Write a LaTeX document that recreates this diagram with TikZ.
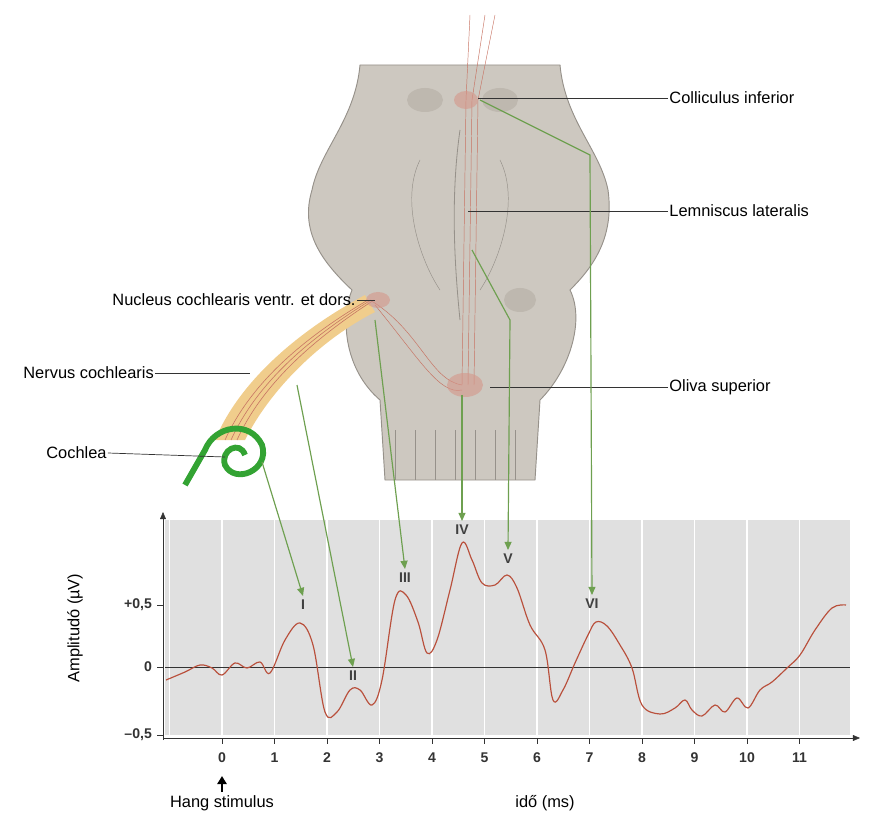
\documentclass[tikz,border=0pt]{standalone}
\usepackage{fontspec}
\setmainfont{Liberation Sans}
\usetikzlibrary{positioning,arrows.meta}
\definecolor{brain}{RGB}{205,200,192}
\definecolor{brainline}{RGB}{150,145,138}
\definecolor{bump}{RGB}{190,184,175}
\definecolor{arrgreen}{RGB}{110,160,80}
\definecolor{wave}{RGB}{185,80,60}
\definecolor{nerve}{RGB}{240,205,140}
\tikzset{
  lbl/.style={font=\fontsize{14}{16}\selectfont, inner sep=1pt},
  pointer/.style={draw=black!80, line width=0.6pt},
  link/.style={draw=arrgreen, line width=1pt, -{Triangle[length=7pt,width=6pt]}},
  peak/.style={font=\bfseries\fontsize{12}{14}\selectfont, text=black!75},
  tick/.style={font=\bfseries\fontsize{12}{14}\selectfont, text=black!80}
}
\begin{document}
\begin{tikzpicture}[x=0.03cm, y=-0.03cm]
  \useasboundingbox (0,0) rectangle (886,819);
  %.
  % brainstem
  \filldraw[fill=brain, draw=brainline, line width=0.8pt]
    (360,65) -- (560,65) .. controls (565,120) and (600,150) .. (608,190)
    .. controls (615,240) and (590,270) .. (570,290)
    .. controls (585,320) and (570,370) .. (540,400) -- (535,480) -- (385,480) -- (380,400)
    .. controls (345,370) and (340,320) .. (352,290)
    .. controls (320,260) and (300,230) .. (312,190)
    .. controls (320,150) and (355,120) .. cycle;
  \draw[brainline, line width=0.7pt] (460,130) .. controls (450,200) and (455,270) .. (460,320);
  \draw[brainline] (420,160) .. controls (400,200) and (420,260) .. (440,290);
  \draw[brainline] (500,160) .. controls (520,200) and (500,260) .. (480,290);
  \foreach \x in {395,415,435,455,475,495,515} \draw[brainline] (\x,430) -- (\x,480);
  \fill[bump] (425,100) ellipse (18 and 12);
  \fill[bump] (500,100) ellipse (18 and 12);
  \fill[bump] (520,300) ellipse (16 and 12);
  % nerve and cochlea
  \fill[nerve] (245,440) -- (215,440) .. controls (240,380) and (300,330) .. (365,295)
    -- (375,312) .. controls (320,340) and (270,390) .. cycle;
  \foreach \d in {0,6,12} \draw[wave!80, line width=0.5pt] (225+\d,440) .. controls (250+\d,385) and (300+\d,340) .. (368+\d/2,300);
  \draw[wave!80] (370,300) .. controls (420,330) and (430,380) .. (462,385);
  \draw[wave!80] (375,305) .. controls (420,360) and (440,395) .. (462,390);
  \draw[wave!80] (462,385) -- (466,100) -- (470,15);
  \draw[wave!80] (468,385) -- (472,100) -- (485,15);
  \draw[wave!80] (474,385) -- (478,100) -- (495,15);
  \fill[wave!60, opacity=0.6] (378,300) ellipse (12 and 8);
  \fill[wave!60, opacity=0.6] (465,385) ellipse (18 and 12);
  \fill[wave!60, opacity=0.6] (466,100) ellipse (12 and 9);
  \draw[green!55!black!80, line width=5pt] (185,485) -- (205,450)
    .. controls (215,425) and (250,420) .. (262,445) .. controls (270,470) and (235,485) .. (225,465)
    .. controls (220,450) and (240,440) .. (245,455);
  % labels
  \node[lbl, anchor=west] (colliculus) at (668,98) {Colliculus inferior};
  \node[lbl, anchor=west] (lemniscus) at (668,211) {Lemniscus lateralis};
  \node[lbl, anchor=west] (oliva) at (668,387) {Oliva superior};
  \node[lbl, anchor=east] (nucleus) at (357,300) {Nucleus cochlearis ventr. et dors.};
  \node[lbl, anchor=west] (nervus) at (22,373) {Nervus cochlearis};
  \node[lbl, anchor=west] (cochlea) at (45,453) {Cochlea};
  \coordinate (pc) at (478,98);
  \coordinate (pl) at (468,211);
  \coordinate (po) at (490,387);
  \coordinate (pn) at (375,300);
  \coordinate (pv) at (250,373);
  \coordinate (pk) at (225,457);
  \draw[pointer] (colliculus.west) -- (pc);
  \draw[pointer] (lemniscus.west) -- (pl);
  \draw[pointer] (oliva.west) -- (po);
  \draw[pointer] (nucleus.east) -- (pn);
  \draw[pointer] (nervus.east) -- (pv);
  \draw[pointer] (cochlea.east) -- (pk);
  % plot area
  \fill[black!12] (165,520) rectangle (850,735);
  \foreach \t in {-1,...,11} \draw[white, line width=1pt] (222+52.5*\t,520) -- (222+52.5*\t,735);
  \draw[black!80] (165,667) -- (850,667);
  \draw[black!80, -{Triangle[length=6pt,width=5pt]}] (163,740) -- (163,512);
  \draw[black!80, -{Triangle[length=6pt,width=5pt]}] (163,738) -- (860,738);
  \foreach \t in {0,...,11} {
    \draw[black!80] (222+52.5*\t,738) -- (222+52.5*\t,744);
    \node[tick] at (222+52.5*\t,758) {\t};
  }
  \foreach \y/\l in {605/{+0,5},667/0,735/{\textendash0,5}} {
    \draw[black!80] (157,\y) -- (163,\y);
    \node[tick, anchor=east] at (156,\y) {\l};
  }
  \node[lbl, rotate=90] (amplitude) at (75,628) {Amplitudó (µV)};
  \node[lbl] (stimulus) at (222,803) {Hang stimulus};
  \node[lbl] (ido) at (545,803) {idő (ms)};
  \draw[-{Triangle[length=7pt,width=8pt]}, line width=2pt] (222,792) -- (222,776);
  % waveform
  \draw[wave, line width=1pt] plot[smooth, tension=0.6] coordinates {
    (166,680) (185,672) (200,665) (212,668) (222,675) (235,663) (247,668) (260,662) (270,673)
    (285,640) (300,623) (313,645) (325,712) (337,712) (350,690) (360,690) (372,705) (382,680)
    (395,600) (406,595) (418,622) (427,653) (437,640) (450,590) (462,543) (472,560) (482,583)
    (495,585) (507,575) (517,588) (530,625) (545,650) (553,700) (563,690) (575,663) (588,635)
    (596,622) (607,626) (620,645) (632,668) (642,705) (660,714) (675,708) (685,700) (692,710)
    (702,716) (715,705) (725,712) (737,698) (748,708) (760,690) (772,682) (787,668) (800,655)
    (815,630) (832,608) (846,605)};
  % peaks
  \node[peak] (p1) at (303,605) {I};
  \node[peak] (p2) at (353,676) {II};
  \node[peak] (p3) at (405,578) {III};
  \node[peak] (p4) at (462,530) {IV};
  \node[peak] (p5) at (508,559) {V};
  \node[peak] (p6) at (592,604) {VI};
  % links
  \draw[link] (262,462) -- (p1.north);
  \draw[link] (297,385) -- (p2.north);
  \draw[link] (375,320) -- (p3.north);
  \draw[link] (462,395) -- (p4.north);
  \draw[link] (472,250) -- (510,320) -- (p5.north);
  \draw[link] (480,100) -- (590,155) -- (p6.north);
  %.
\end{tikzpicture}
\end{document}
